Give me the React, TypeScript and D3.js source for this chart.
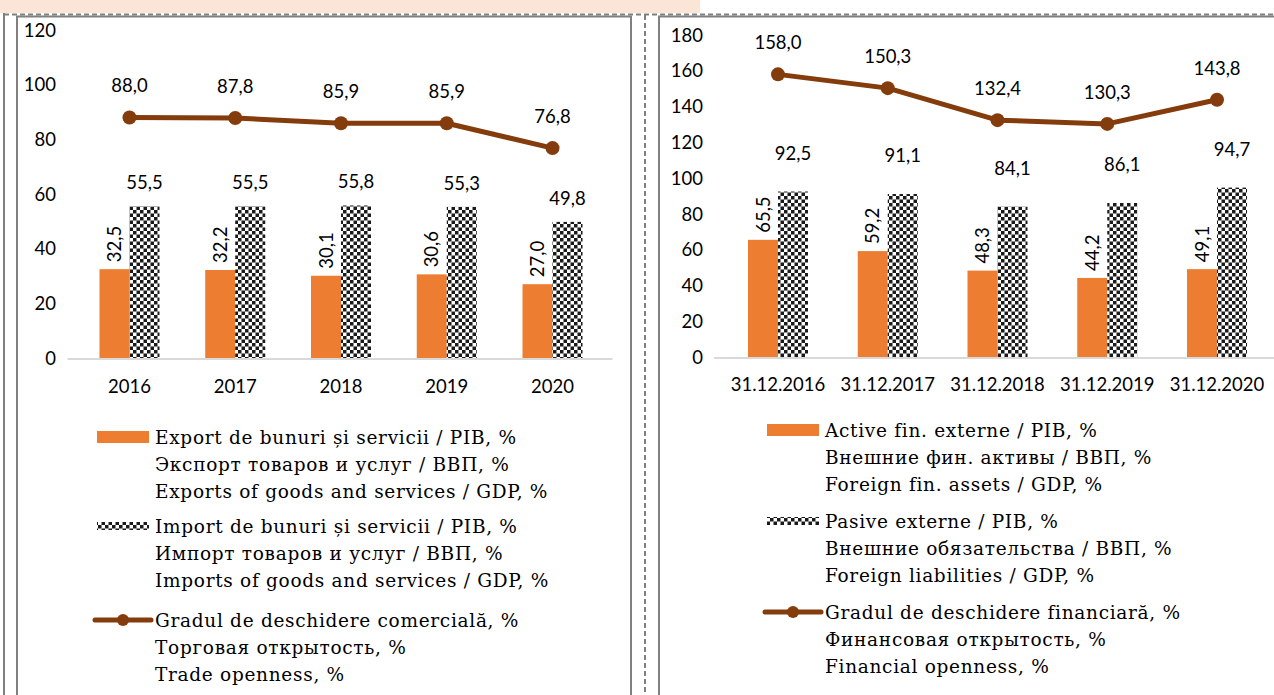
import { useEffect, useRef } from "react";
import * as d3 from "d3";

// trade openness (left panel)
const tradeYears = ["2016", "2017", "2018", "2019", "2020"];
const exportsGdp = [32.5, 32.2, 30.1, 30.6, 27.0];
const importsGdp = [55.5, 55.5, 55.8, 55.3, 49.8];
const tradeOpenness = [88.0, 87.8, 85.9, 85.9, 76.8];
const tradeTicks = [0, 20, 40, 60, 80, 100, 120];

// financial openness (right panel)
const finDates = ["31.12.2016", "31.12.2017", "31.12.2018", "31.12.2019", "31.12.2020"];
const finAssets = [65.5, 59.2, 48.3, 44.2, 49.1];
const finLiabilities = [92.5, 91.1, 84.1, 86.1, 94.7];
const finOpenness = [158.0, 150.3, 132.4, 130.3, 143.8];
const finTicks = [0, 20, 40, 60, 80, 100, 120, 140, 160, 180];

const tradeLegend = [
  ["Export de bunuri și servicii / PIB, %", "Экспорт товаров и услуг / ВВП, %", "Exports of goods and services / GDP, %"],
  ["Import de bunuri și servicii / PIB, %", "Импорт товаров и услуг / ВВП, %", "Imports of goods and services / GDP, %"],
  ["Gradul de deschidere comercială, %", "Торговая открытость, %", "Trade openness, %"],
];
const finLegend = [
  ["Active fin. externe / PIB, %", "Внешние фин. активы / ВВП, %", "Foreign fin. assets / GDP, %"],
  ["Pasive externe / PIB, %", "Внешние обязательства / ВВП, %", "Foreign liabilities / GDP, %"],
  ["Gradul de deschidere financiară, %", "Финансовая открытость, %", "Financial openness, %"],
];

const ORANGE = "#ed7d31";
const BROWN = "#843c0c";
const GRID = "#808080";
const NUM_FONT = "Lato, 'Open Sans', sans-serif";
const LEG_FONT = "'DejaVu Serif', serif";

const fmt = (v) => v.toFixed(1).replace(".", ",");

const drawPanel = (svg, cfg) => {
  const { cats, bars1, bars2, line, ticks, xRange, yRange, yMax, tickX, legend } = cfg;
  const step = (xRange[1] - xRange[0]) / cats.length;
  const inner = 1 - 60 / step;
  const x = d3.scaleBand().domain(cats).range(xRange).paddingInner(inner).paddingOuter(inner / 2);
  const sub = d3.scaleBand().domain(["a", "b"]).range([0, x.bandwidth()]);
  const y = d3.scaleLinear().domain([0, yMax]).range(yRange);
  const g = svg.append("g");

  g.selectAll("text.tick")
    .data(ticks)
    .join("text")
    .attr("class", "tick")
    .attr("x", tickX)
    .attr("y", (d) => y(d))
    .attr("dy", "0.36em")
    .attr("text-anchor", "end")
    .attr("font-family", NUM_FONT)
    .attr("font-size", 18.5)
    .attr("fill", "#000")
    .text((d) => d);

  g.selectAll("rect.b1")
    .data(bars1)
    .join("rect")
    .attr("class", "b1")
    .attr("x", (_, i) => x(cats[i]) + sub("a"))
    .attr("y", (d) => y(d))
    .attr("width", sub.bandwidth())
    .attr("height", (d) => y(0) - y(d))
    .attr("fill", ORANGE);

  g.selectAll("rect.b2")
    .data(bars2)
    .join("rect")
    .attr("class", "b2")
    .attr("x", (_, i) => x(cats[i]) + sub("b"))
    .attr("y", (d) => y(d))
    .attr("width", sub.bandwidth())
    .attr("height", (d) => y(0) - y(d))
    .attr("fill", "url(#checker)");

  g.append("line")
    .attr("x1", xRange[0] - 9)
    .attr("x2", Math.min(xRange[1] + 7, 1274))
    .attr("y1", y(0) + 1)
    .attr("y2", y(0) + 1)
    .attr("stroke", "#d9d9d9")
    .attr("stroke-width", 2);

  // rotated labels on orange bars
  g.selectAll("text.l1")
    .data(bars1)
    .join("text")
    .attr("class", "l1")
    .attr("transform", (d, i) => `translate(${x(cats[i]) + sub("a") + sub.bandwidth() / 2},${y(d) - cfg.rotGap}) rotate(-90)`)
    .attr("dy", "0.36em")
    .attr("font-family", NUM_FONT)
    .attr("font-size", 18.5)
    .text(fmt);

  g.selectAll("text.l2")
    .data(bars2)
    .join("text")
    .attr("class", "l2")
    .attr("x", (_, i) => x(cats[i]) + sub("b") + sub.bandwidth() / 2)
    .attr("y", (d) => y(d) - cfg.barGap)
    .attr("text-anchor", "middle")
    .attr("font-family", NUM_FONT)
    .attr("font-size", 18.5)
    .text(fmt);

  const cx = (_, i) => x(cats[i]) + x.bandwidth() / 2;
  const path = d3.line().x((d, i) => cx(d, i)).y((d) => y(d));
  g.append("path")
    .attr("d", path(line))
    .attr("fill", "none")
    .attr("stroke", BROWN)
    .attr("stroke-width", 5)
    .attr("stroke-linejoin", "round");

  g.selectAll("circle.pt")
    .data(line)
    .join("circle")
    .attr("class", "pt")
    .attr("cx", cx)
    .attr("cy", (d) => y(d))
    .attr("r", 7)
    .attr("fill", BROWN);

  g.selectAll("text.l3")
    .data(line)
    .join("text")
    .attr("class", "l3")
    .attr("x", cx)
    .attr("y", (d) => y(d) - 25)
    .attr("text-anchor", "middle")
    .attr("font-family", NUM_FONT)
    .attr("font-size", 18.5)
    .text(fmt);

  g.selectAll("text.cat")
    .data(cats)
    .join("text")
    .attr("class", "cat")
    .attr("x", cx)
    .attr("y", cfg.catY)
    .attr("dy", "0.36em")
    .attr("text-anchor", "middle")
    .attr("font-family", NUM_FONT)
    .attr("font-size", 18.5)
    .text((d) => d);

  // legend
  const { sx, tx, rows } = legend;
  legend.texts.forEach((lines, k) => {
    const cy = rows[k];
    if (k === 0) {
      g.append("rect").attr("x", sx).attr("y", cy - 6).attr("width", 52).attr("height", 12).attr("fill", ORANGE);
    } else if (k === 1) {
      g.append("rect").attr("x", sx).attr("y", cy - 4).attr("width", 52).attr("height", 8).attr("fill", "url(#checker)");
    } else {
      g.append("line").attr("x1", sx - 2).attr("x2", sx + 54).attr("y1", cy).attr("y2", cy)
        .attr("stroke", BROWN).attr("stroke-width", 5).attr("stroke-linecap", "round");
      g.append("circle").attr("cx", sx + 26).attr("cy", cy).attr("r", 6).attr("fill", BROWN);
    }
    g.append("g")
      .selectAll("text")
      .data(lines)
      .join("text")
      .attr("x", tx)
      .attr("y", (_, j) => cy + j * 27)
      .attr("dy", "0.36em")
      .attr("font-family", LEG_FONT)
      .attr("font-size", 18.5)
      .attr("letter-spacing", 0.7)
      .attr("fill", "#000")
      .text((d) => d);
  });
};

export default function App() {
  const ref = useRef(null);

  useEffect(() => {
    const svg = d3.select(ref.current);
    svg.selectAll("*").remove();

    const pat = svg.append("defs").append("pattern")
      .attr("id", "checker")
      .attr("patternUnits", "userSpaceOnUse")
      .attr("width", 7)
      .attr("height", 7);
    pat.append("rect").attr("width", 7).attr("height", 7).attr("fill", "#fff");
    pat.append("rect").attr("width", 3.5).attr("height", 3.5).attr("fill", "#1a1a1a");
    pat.append("rect").attr("x", 3.5).attr("y", 3.5).attr("width", 3.5).attr("height", 3.5).attr("fill", "#1a1a1a");

    svg.append("rect").attr("width", 1274).attr("height", 695).attr("fill", "#fff");
    svg.append("rect").attr("x", 0).attr("y", 0).attr("width", 700).attr("height", 13).attr("fill", "#fbe5d6");

    // frames
    svg.append("line").attr("x1", 4).attr("x2", 4).attr("y1", 13).attr("y2", 695).attr("stroke", GRID).attr("stroke-width", 2);
    svg.append("line").attr("x1", 4).attr("x2", 1274).attr("y1", 14.5).attr("y2", 14.5)
      .attr("stroke", GRID).attr("stroke-width", 2).attr("stroke-dasharray", "5,3");
    svg.append("line").attr("x1", 645).attr("x2", 645).attr("y1", 15).attr("y2", 695)
      .attr("stroke", GRID).attr("stroke-width", 2).attr("stroke-dasharray", "5,3");
    svg.append("path").attr("d", "M17,695V16.5H631V695").attr("fill", "none").attr("stroke", GRID).attr("stroke-width", 2);
    svg.append("path").attr("d", "M659,695V16.5H1274").attr("fill", "none").attr("stroke", GRID).attr("stroke-width", 2);

    drawPanel(svg, {
      cats: tradeYears,
      bars1: exportsGdp,
      bars2: importsGdp,
      line: tradeOpenness,
      ticks: tradeTicks,
      yMax: 120,
      xRange: [76.6, 605.4],
      yRange: [358, 30],
      tickX: 56,
      catY: 386,
      rotGap: 7,
      barGap: 17,
      legend: { sx: 97, tx: 155, rows: [437, 526, 620], texts: tradeLegend },
    });

    drawPanel(svg, {
      cats: finDates,
      bars1: finAssets,
      bars2: finLiabilities,
      line: finOpenness,
      ticks: finTicks,
      yMax: 180,
      xRange: [723.1, 1271.9],
      yRange: [357, 35],
      tickX: 703,
      catY: 384,
      rotGap: 7,
      barGap: 32,
      legend: { sx: 767, tx: 825, rows: [430, 521, 612], texts: finLegend },
    });
  }, []);

  return (
    <svg
      ref={ref}
      width={1274}
      height={695}
      style={{ position: "absolute", left: 0, top: 0, display: "block" }}
    />
  );
}
